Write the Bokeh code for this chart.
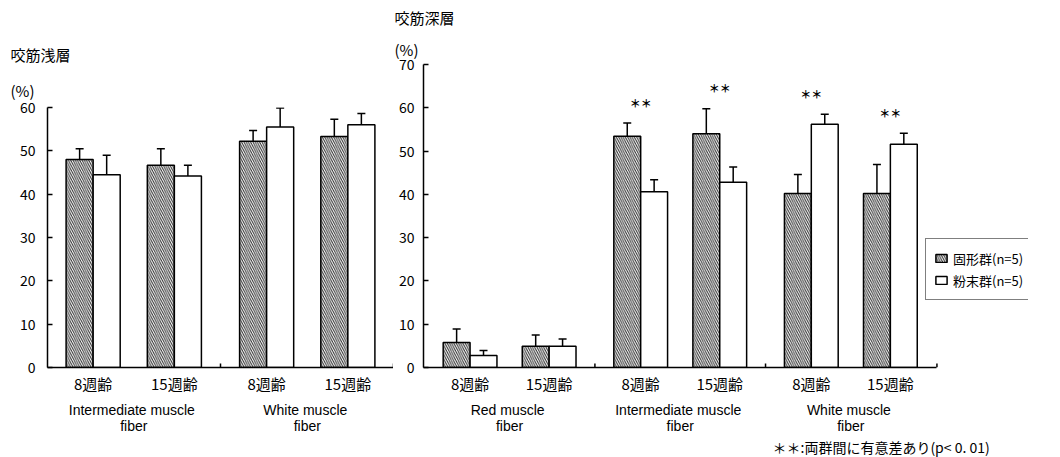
from bokeh.plotting import figure
from bokeh.models import (FactorRange, Range1d, ColumnDataSource, Legend,
                          LegendItem, FixedTicker, Title)
from bokeh.transform import dodge
from bokeh.layouts import row
from bokeh.embed import file_html
from bokeh.resources import INLINE
from bokeh.core.properties import value

# ---------------- data ----------------
ages = ["8週齢", "15週齢"]
muscles_superficial = ["Intermediate  muscle\nfiber", "White  muscle\nfiber"]
muscles_deep = ["Red  muscle\nfiber", "Intermediate  muscle\nfiber", "White  muscle\nfiber"]

solid_superficial = [48.0, 46.7, 52.2, 53.3]
solid_superficial_sd = [2.5, 3.8, 2.5, 4.0]
powder_superficial = [44.5, 44.2, 55.5, 56.0]
powder_superficial_sd = [4.5, 2.5, 4.4, 2.6]

solid_deep = [5.8, 4.9, 53.4, 54.0, 40.2, 40.2]
solid_deep_sd = [3.1, 2.6, 3.1, 5.8, 4.4, 6.7]
powder_deep = [2.8, 4.9, 40.6, 42.8, 56.2, 51.6]
powder_deep_sd = [1.1, 1.7, 2.8, 3.5, 2.3, 2.5]
significant_deep = [False, False, True, True, True, True]

y_ticks_superficial = [0, 10, 20, 30, 40, 50, 60]
y_ticks_deep = [0, 10, 20, 30, 40, 50, 60, 70]

series_labels = ["固形群(n=5)", "粉末群(n=5)"]
titles = ["咬筋浅層", "咬筋深層"]
unit_label = "(%)"
star_text = "＊＊"
footnote = "＊＊:両群間に有意差あり(p< 0. 01)"

# ---------------- style ----------------
CJK = "Noto Sans CJK JP"
LATIN = "Liberation Sans"
HEIGHT = 457
BORDER_BOTTOM = 90
LW = 1.5
UNIT_PX = 79          # pixels per category slot in the right panel
SPARE = (" ", " ")    # empty slot that leaves room for the legend


def make_panel(title, muscles, solid, solid_sd, powder, powder_sd, yticks,
               width, b_left, b_top, gpad, rpad, bar_w, y_standoff,
               title_offset, unit_standoff, title_standoff,
               sig=None, legend=False):
    factors = [(m, a) for m in muscles for a in ages]
    n, g = len(factors), len(muscles)
    all_factors = factors + ([SPARE] if legend else [])
    xr = FactorRange(*all_factors, factor_padding=0.0, group_padding=gpad,
                     range_padding=rpad, range_padding_units="absolute")
    axis_end = n + (g - 1) * gpad + rpad
    if legend:
        total_units = (n + 1) + g * gpad + 2 * rpad
        b_right = width - b_left - int(round(total_units * UNIT_PX))
    else:
        b_right = 0
    yr = Range1d(0, yticks[-1])
    p = figure(x_range=xr, y_range=yr, width=width, height=HEIGHT,
               min_border_left=b_left, min_border_right=b_right,
               min_border_top=b_top, min_border_bottom=BORDER_BOTTOM,
               output_backend="svg", toolbar_location=None,
               background_fill_color="white", border_fill_color="white",
               outline_line_color=None)
    p.frame_align = False
    p.grid.visible = False
    frame_h = HEIGHT - b_top - BORDER_BOTTOM
    ppy = frame_h / yticks[-1]

    src = ColumnDataSource(dict(
        x=factors,
        solid=solid, solid_up=[v + s for v, s in zip(solid, solid_sd)],
        powder=powder, powder_up=[v + s for v, s in zip(powder, powder_sd)],
    ))
    r1 = p.vbar(x=dodge("x", -bar_w / 2, range=xr), top="solid", width=bar_w,
                source=src, fill_color="white", line_color="black", line_width=LW,
                hatch_pattern="\\", hatch_color="#2a2a2a", hatch_scale=4.5,
                hatch_weight=1.0)
    r2 = p.vbar(x=dodge("x", bar_w / 2, range=xr), top="powder", width=bar_w,
                source=src, fill_color="white", line_color="black", line_width=LW)
    for off, top, up in ((-bar_w / 2, "solid", "solid_up"), (bar_w / 2, "powder", "powder_up")):
        p.segment(x0=dodge("x", off, range=xr), y0=top, x1=dodge("x", off, range=xr),
                  y1=up, source=src, line_color="black", line_width=LW)
        p.scatter(x=dodge("x", off, range=xr), y=up, marker="dash", size=8,
                  line_color="black", line_width=LW, source=src)

    # small inward ticks at group boundaries and at the axis end
    bx = [2 * (k + 1) + k * gpad + gpad / 2 for k in range(g - 1)] + [axis_end]
    tick_h = 4 / ppy
    p.segment(x0=bx, y0=[0] * len(bx), x1=bx, y1=[tick_h] * len(bx),
              line_color="black", line_width=LW)

    # significance stars
    if sig is not None:
        sx, sy = [], []
        for f, s, a, b in zip(factors, sig, src.data["solid_up"], src.data["powder_up"]):
            if s:
                sx.append(f)
                sy.append(max(a, b) + 4.7)
        p.text(x=sx, y=sy, text=[star_text] * len(sx), text_align="center",
               text_baseline="middle", text_font=value(CJK), text_font_size="11px",
               text_font_style="bold", text_color="black")

    # axes
    xa = p.xaxis[0]
    xa.bounds = (-rpad, axis_end)
    xa.axis_line_width = LW
    xa.axis_line_color = "black"
    xa.major_tick_line_color = None
    xa.major_tick_in = 0
    xa.major_tick_out = 0
    xa.minor_tick_line_color = None
    xa.major_label_text_font = CJK
    xa.major_label_text_font_size = "15px"
    xa.major_label_text_color = "black"
    xa.major_label_standoff = 5
    xa.group_text_font = LATIN
    xa.group_text_font_size = "14px"
    xa.group_text_color = "black"
    xa.group_text_font_style = "normal"
    xa.group_text_line_height = 1.0
    xa.group_label_orientation = "horizontal"
    xa.separator_line_color = None

    ya = p.yaxis[0]
    ya.ticker = FixedTicker(ticks=yticks)
    ya.axis_line_width = LW
    ya.axis_line_color = "black"
    ya.major_tick_in = 5
    ya.major_tick_out = 0
    ya.major_tick_line_width = LW
    ya.minor_tick_line_color = None
    ya.major_label_text_font = CJK
    ya.major_label_text_font_size = "14px"
    ya.major_label_text_color = "black"
    ya.major_label_standoff = y_standoff

    # titles (stacked above the frame: first added is nearest)
    p.add_layout(Title(text=unit_label, align="left", offset=title_offset,
                       standoff=unit_standoff, text_font=CJK, text_font_size="15px",
                       text_font_style="normal", text_color="black"), "above")
    p.add_layout(Title(text=title, align="left", offset=title_offset,
                       standoff=title_standoff, text_font=CJK, text_font_size="15px",
                       text_font_style="normal", text_color="black"), "above")

    if legend:
        lg = Legend(items=[LegendItem(label=series_labels[0], renderers=[r1]),
                           LegendItem(label=series_labels[1], renderers=[r2])],
                    location=(502, 67), orientation="vertical")
        lg.border_line_color = "black"
        lg.border_line_width = LW
        lg.background_fill_color = "white"
        lg.background_fill_alpha = 1.0
        lg.label_text_font = CJK
        lg.label_text_font_size = "13px"
        lg.label_text_color = "black"
        lg.glyph_width = 14
        lg.glyph_height = 10
        lg.label_height = 22
        lg.label_standoff = 5
        lg.spacing = 0
        lg.padding = 8
        lg.margin = 0
        p.add_layout(lg)
        p.add_layout(Title(text=footnote, align="left", offset=349, standoff=-3,
                           text_font=CJK, text_font_size="14px", text_font_style="normal",
                           text_color="black"), "below")
    return p


p1 = make_panel(titles[0], muscles_superficial, solid_superficial, solid_superficial_sd,
                powder_superficial, powder_superficial_sd, y_ticks_superficial,
                width=393, b_left=47, b_top=107, gpad=0.136, rpad=0.062,
                bar_w=0.333, y_standoff=12, title_offset=-37,
                unit_standoff=13, title_standoff=13)
p2 = make_panel(titles[1], muscles_deep, solid_deep, solid_deep_sd,
                powder_deep, powder_deep_sd, y_ticks_deep,
                width=667, b_left=30, b_top=63, gpad=0.158, rpad=0.089,
                bar_w=0.34, y_standoff=9, title_offset=-29,
                unit_standoff=10, title_standoff=8,
                sig=significant_deep, legend=True)

layout = row(p1, p2)
open("out.html", "w").write(file_html(layout, INLINE))
